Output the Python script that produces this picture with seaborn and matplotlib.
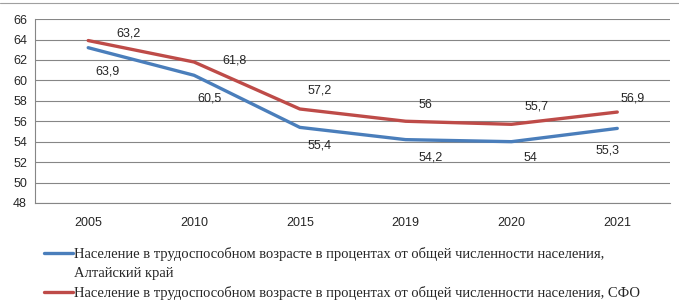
import pandas as pd
import numpy as np
import matplotlib.pyplot as plt
import seaborn as sns
from matplotlib.lines import Line2D


years = ["2005", "2010", "2015", "2019", "2020", "2021"]
altai = [63.2, 60.5, 55.4, 54.2, 54.0, 55.3]
sfo = [63.9, 61.8, 57.2, 56.0, 55.7, 56.9]
# data labels as printed on the original (2005 labels are swapped there)
altai_labels = ["63,9", "60,5", "55,4", "54,2", "54", "55,3"]
sfo_labels = ["63,2", "61,8", "57,2", "56", "55,7", "56,9"]

name_altai = ["Население в трудоспособном возрасте в процентах от общей численности населения,",
              "Алтайский край"]
name_sfo = "Население в трудоспособном возрасте в процентах от общей численности населения, СФО"

df = pd.DataFrame({
    "year": years * 2,
    "value": altai + sfo,
    "series": ["altai"] * len(years) + ["sfo"] * len(years),
})

sns.set_style("white")
plt.rcParams['font.family'] = ['Liberation Sans', 'DejaVu Sans']

blue = "#4A7EBB"
red = "#BE4B48"

fig = plt.figure(figsize=(6.79, 3.08), dpi=100)
ax = fig.add_axes([0.052, 0.341, 0.935, 0.597])

sns.lineplot(data=df, x="year", y="value", hue="series", sort=False,
             palette=[blue, red], linewidth=2.4, ax=ax, legend=False)

ax.set_xlim(-0.5, 5.5)
ax.set_ylim(48, 66)
ax.set_yticks(np.arange(48, 67, 2))
ax.set_xticks(range(len(years)))
ax.set_xticklabels(years)
ax.set_xticks(np.arange(-0.5, 6, 1), minor=True)
ax.tick_params(axis="x", which="major", length=0, pad=10, labelsize=9)
ax.tick_params(axis="x", which="minor", length=4, color="#868686", width=0.8)
ax.tick_params(axis="y", length=4, color="#868686", width=0.8, labelsize=9, pad=2)
ax.set_xlabel("")
ax.set_ylabel("")
ax.grid(axis="y", color="#868686", linewidth=0.8)
ax.set_axisbelow(True)
for s in ["top", "right"]:
    ax.spines[s].set_visible(False)
for s in ["left", "bottom"]:
    ax.spines[s].set_color("#868686")
    ax.spines[s].set_linewidth(0.8)

# label offsets in points (dx, dy)
sfo_off = [(29, 5), (29, 1), (14, 13), (14, 12), (18, 13), (11, 10)]
altai_off = [(14, -17), (11, -17), (14, -13), (18, -13), (14, -12), (-7, -16)]
for i in range(len(years)):
    ax.annotate(sfo_labels[i], (i, sfo[i]), xytext=sfo_off[i], textcoords="offset points",
                ha="center", va="center", fontsize=9)
    ax.annotate(altai_labels[i], (i, altai[i]), xytext=altai_off[i], textcoords="offset points",
                ha="center", va="center", fontsize=9)

# legend: the wrapped second line of the first entry gets an empty handle
handles = [Line2D([], [], color=blue, linewidth=2.4),
           Line2D([], [], color="none"),
           Line2D([], [], color=red, linewidth=2.4)]
fig.legend(handles, [name_altai[0], name_altai[1], name_sfo], loc="upper left",
           bbox_to_anchor=(0.045, 0.241), frameon=False, handlelength=2.0,
           handletextpad=0.05, labelspacing=0.41,
           prop={"family": "Liberation Serif", "size": 10.5})

fig.add_artist(Line2D([0, 1], [0.99, 0.99], color="#A0A0A0", linewidth=0.8))

fig.savefig("out.png", dpi=100)
